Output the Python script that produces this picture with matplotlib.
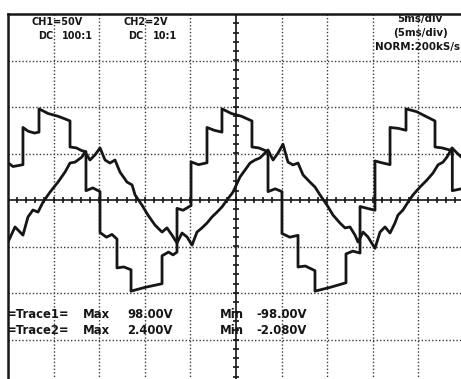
import numpy as np
import matplotlib
matplotlib.use("Agg")
import matplotlib.pyplot as plt

W, H, DPI = 461, 379, 100

# Scope settings
ch1_volts_per_div = 50.0
ch2_volts_per_div = 2.0
ms_per_div = 5.0
n_xdiv, n_ydiv = 10, 8

# CH1: staircase output voltage (ms, V); repeated times mark vertical steps
ch1_t = [0.00, 0.55, 1.10, 1.64,
         1.64, 2.20, 2.90, 3.40,
         3.40, 4.40, 5.50, 6.30, 6.80,
         6.80, 7.50, 8.10, 8.55,
         8.55, 9.30, 10.09,
         10.09, 10.80, 11.40, 11.95,
         11.95, 12.70, 13.49,
         13.49, 15.00, 16.89,
         16.89, 17.60, 18.10, 18.53,
         18.53, 19.20, 20.07,
         20.07, 20.90, 21.82,
         21.82, 22.60, 23.46,
         23.46, 24.50, 25.60, 26.75,
         26.75, 27.50, 28.51,
         28.51, 29.30, 30.04,
         30.04, 30.90, 31.80,
         31.80, 32.60, 33.66,
         33.66, 35.30, 37.06,
         37.06, 37.80, 38.60,
         38.60, 39.40, 40.24,
         40.24, 41.00, 41.89,
         41.89, 42.80, 43.64,
         43.64, 44.80, 45.80, 46.82,
         46.82, 47.60, 48.72,
         48.72, 49.70]
ch1_v = [40, 36, 37, 38,
         78, 74, 72, 73,
         98, 93, 90, 87, 85,
         57, 56, 53, 52,
         10, 13, 9,
         -35, -40, -37, -42,
         -73, -72, -75,
         -98, -94, -90,
         -60, -56, -59, -56,
         -9, -11, -6,
         41, 38, 40,
         78, 75, 73,
         98, 93, 90, 85,
         57, 56, 52,
         9, 12, 9,
         -36, -40, -38,
         -72, -71, -76,
         -98, -94, -89,
         -58, -55, -57,
         -7, -9, -11,
         42, 40, 38,
         78, 77, 75,
         98, 95, 90, 85,
         57, 56, 53,
         10, 12]

# CH2: load current probe voltage (ms, V)
ch2_t = [0.00, 0.77, 1.64, 2.19, 2.74, 3.29, 3.84, 4.61, 5.48, 6.25, 6.80,
         7.35, 8.11, 8.44, 8.99, 9.54, 10.09, 10.64, 11.18, 11.73, 12.28,
         13.05, 13.60, 13.93, 14.69, 15.35, 16.12, 16.89, 17.43, 17.98,
         18.53, 19.08, 19.63, 20.18, 20.72, 21.27, 21.82, 22.37, 22.92,
         23.46, 24.01, 24.67, 25.44, 26.54, 27.08, 27.63, 28.18, 28.51,
         29.06, 29.61, 30.15, 30.70, 31.25, 31.80, 32.35, 33.11, 33.66,
         34.21, 34.98, 35.64, 36.40, 36.95, 37.50, 38.05, 38.38, 38.93,
         39.47, 40.24, 40.79, 41.34, 41.89, 42.43, 42.76, 43.31, 43.86,
         44.41, 45.18, 45.94, 46.60, 47.15, 47.70, 48.14, 48.69, 49.23,
         49.70]
ch2_v = [-1.81, -1.16, -1.51, -0.73, -0.43, -0.52, -0.09, 0.34, 0.77, 1.20,
         1.59, 1.63, 1.85, 2.06, 1.72, 1.94, 2.24, 1.72, 1.59, 1.72, 1.20,
         0.77, 0.65, 0.22, -0.22, -0.65, -1.08, -1.38, -1.20, -1.51, -1.85,
         -1.42, -1.59, -1.94, -1.38, -1.20, -0.99, -0.73, -0.52, -0.30,
         0.00, 0.34, 0.99, 1.59, 1.72, 1.81, 2.02, 2.15, 1.72, 2.02, 2.40,
         1.63, 1.51, 1.59, 1.08, 0.77, 0.56, 0.22, -0.22, -0.65, -0.99,
         -1.20, -1.16, -1.51, -1.81, -1.38, -1.59, -2.08, -1.38, -1.16,
         -1.42, -0.99, -0.65, -0.43, -0.09, 0.22, 0.56, 0.86, 1.16, 1.51,
         1.63, 1.85, 2.24, 2.02, 1.85]

ink = "#161616"
grid_ink = "#3a3a3a"

fig = plt.figure(figsize=(W / DPI, H / DPI), dpi=DPI)
fig.patch.set_facecolor("white")
ax = fig.add_axes([8 / W, -7 / H, 456 / W, 372 / H])
ax.set_xlim(0, n_xdiv * ms_per_div)
ax.set_ylim(-n_ydiv / 2, n_ydiv / 2)
ax.set_xticks([])
ax.set_yticks([])
for side in ("right", "bottom"):
    ax.spines[side].set_visible(False)
for side in ("left", "top"):
    ax.spines[side].set_linewidth(1.8)
    ax.spines[side].set_color(ink)

# Dotted graticule
dots = dict(color=grid_ink, lw=1.0, ls=(0, (1.0, 1.5)), zorder=1)
for i in range(1, n_xdiv):
    if i != n_xdiv // 2:
        ax.axvline(i * ms_per_div, **dots)
for j in range(-n_ydiv // 2 + 1, n_ydiv // 2):
    if j != 0:
        ax.axhline(j, **dots)

# Centre axes with minor division marks
xc = n_xdiv / 2 * ms_per_div
ax.axhline(0, color=ink, lw=1.2, zorder=2)
ax.axvline(xc, color=ink, lw=1.2, zorder=2)
minor_x = np.arange(0, n_xdiv * ms_per_div + 0.01, ms_per_div / 5)
minor_y = np.arange(-n_ydiv / 2, n_ydiv / 2 + 0.01, 0.2)
ax.plot(minor_x, np.zeros_like(minor_x), ls="none", marker="|", ms=5,
        mew=1.2, color=ink, zorder=2)
ax.plot(np.full_like(minor_y, xc), minor_y, ls="none", marker="_", ms=5,
        mew=1.2, color=ink, zorder=2)

# Traces
ax.plot(ch1_t, np.array(ch1_v) / ch1_volts_per_div, color=ink, lw=2.0,
        solid_joinstyle="round", zorder=3)
ax.plot(ch2_t, np.array(ch2_v) / ch2_volts_per_div, color=ink, lw=2.0,
        solid_joinstyle="round", zorder=3)


def label(x, y, s, ha="left", size=7.0):
    fig.text(x / W, 1 - y / H, s, ha=ha, va="center", fontsize=size,
             fontweight="bold", color=ink)


label(31, 22, "CH1=50V")
label(38, 36, "DC")
label(62, 36, "100:1")
label(123, 22, "CH2=2V")
label(128, 36, "DC")
label(153, 36, "10:1")
label(420, 19, "5ms/div", ha="center", size=7.4)
label(420, 33, "(5ms/div)", ha="center", size=7.4)
label(417, 47, "NORM:200kS/s", ha="center", size=7.4)

bsize = 8.4
label(7, 315, "=Trace1=", size=bsize)
label(83, 315, "Max", size=bsize)
label(127, 315, "98.00V", size=bsize)
label(220, 315, "Min", size=bsize)
label(256, 315, "-98.00V", size=bsize)
label(7, 330, "=Trace2=", size=bsize)
label(83, 330, "Max", size=bsize)
label(127, 330, "2.400V", size=bsize)
label(220, 330, "Min", size=bsize)
label(256, 330, "-2.080V", size=bsize)

fig.savefig("out.png", dpi=DPI, facecolor="white")
